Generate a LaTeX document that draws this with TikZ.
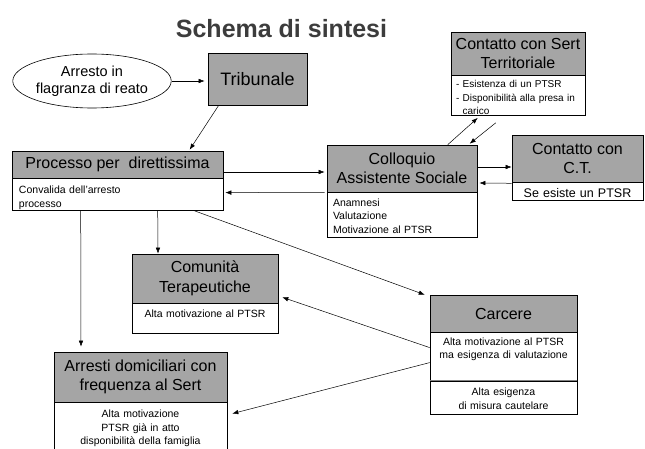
\documentclass[tikz,border=0pt]{standalone}
\usepackage{fontspec}
\setmainfont{Liberation Sans}
\usepackage{tikz}
\usetikzlibrary{positioning,shapes.geometric,arrows.meta}
\definecolor{boxgray}{RGB}{165,165,165}
\definecolor{titlegray}{RGB}{60,60,60}

\begin{document}
\begin{tikzpicture}[x=1pt,y=-1pt,
  head/.style={draw,line width=0.6pt,fill=boxgray,align=center,inner sep=0pt,font=\fontsize{16}{19.5}\selectfont},
  info/.style={draw,line width=0.6pt,fill=white,inner xsep=6pt,inner ysep=3pt,font=\fontsize{10.5}{13.5}\selectfont},
  link/.style={-{Latex[length=6pt,width=4.5pt]},line width=0.5pt}]
  \useasboundingbox (0,0) rectangle (645,449);
  \node[font=\bfseries\fontsize{25}{30}\selectfont,text=titlegray] (title) at (281.5,29) {Schema di sintesi};
  \node[ellipse,draw,line width=0.6pt,minimum width=140pt,minimum height=54pt,inner sep=0pt,align=center,font=\fontsize{14.5}{16.7}\selectfont] (arresto) at (92,81) {Arresto in\\flagranza di reato};
  \node[head,minimum width=99pt,minimum height=52pt,font=\fontsize{18}{21}\selectfont] (tribunale) at (257.5,79) {Tribunale};
  % header boxes with their notes below
  \node[head,minimum width=211pt,minimum height=27pt] (proc) at (117.5,164.5) {Processo per~ direttissima};
  \node[info,below=0pt of proc,inner xsep=7pt,text width=197pt,text height=12pt,text depth=14pt,align=left] (procinfo) {Convalida dell'arresto\\processo};
  \node[head,minimum width=150pt,minimum height=47pt] (colloquio) at (402,168.5) {Colloquio\\Assistente Sociale};
  \node[info,below=0pt of colloquio,text width=138pt,text height=10.5pt,text depth=28.5pt,align=left] (collinfo) {Anamnesi\\Valutazione\\Motivazione al PTSR};
  \node[head,minimum width=134pt,minimum height=43pt] (sert) at (518,53.5) {Contatto con Sert\\Territoriale};
  \node[info,below=0pt of sert,inner xsep=5pt,text width=124pt,text height=9pt,text depth=25pt,align=left,font=\fontsize{10}{13.5}\selectfont] (sertinfo) {- Esistenza di un PTSR\\- Disponibilità alla presa in\\\phantom{- }carico};
  \node[head,minimum width=131pt,minimum height=47pt] (ct) at (577.5,158.5) {Contatto con\\C.T.};
  \node[info,below=0pt of ct,text width=119pt,inner ysep=1pt,text height=13.5pt,text depth=2.5pt,align=center,font=\fontsize{12.5}{15}\selectfont] (ctinfo) {Se esiste un PTSR};
  \node[head,minimum width=146pt,minimum height=49pt] (comunita) at (205,278.5) {Comunità\\Terapeutiche};
  \node[info,below=0pt of comunita,text width=134pt,text height=11pt,text depth=13pt,align=center] (cominfo) {Alta motivazione al PTSR};
  \node[head,minimum width=173pt,minimum height=50pt] (arresti) at (140.5,377) {Arresti domiciliari con\\frequenza al Sert};
  \node[info,below=0pt of arresti,text width=161pt,text height=12pt,text depth=29pt,align=center] (arrinfo) {Alta motivazione\\PTSR già in atto\\disponibilità della famiglia};
  \node[head,minimum width=147pt,minimum height=37pt] (carcere) at (503.5,313.5) {Carcere};
  \node[info,below=0pt of carcere,text width=135pt,text height=9.5pt,text depth=32.5pt,align=center] (carinfo) {Alta motivazione al PTSR\\ma esigenza di valutazione};
  \node[info,below=0pt of carinfo,text width=135pt,text height=11.5pt,text depth=15.5pt,align=center] (carmisura) {Alta esigenza\\di misura cautelare};
  \draw[gray,line width=1pt] (carmisura.north west) -- (carmisura.north east);
  % connectors
  \draw[link,shorten >=3pt] (arresto.east) -- (arresto.east -| tribunale.west);
  \draw[link] ([xshift=11pt]tribunale.south west) -- ([xshift=178pt,yshift=1pt]proc.north west);
  \draw[link] ([yshift=-7.5pt]proc.east) -- ([xshift=-2pt,yshift=-3.5pt]colloquio.west);
  \draw[link] ([xshift=-2pt]colloquio.south west) -- ([xshift=2pt,yshift=2pt]procinfo.east);
  \draw[link] ([xshift=121pt]colloquio.north west) -- ([xshift=27pt,yshift=-2pt]sertinfo.south west);
  \draw[link] ([xshift=45pt,yshift=-7pt]sertinfo.south west) -- ([xshift=143pt,yshift=1pt]colloquio.north west);
  \draw[link] ([yshift=1.5pt]colloquio.east) -- ([yshift=-8.5pt]ct.west);
  \draw[link] ([yshift=-1pt]ct.south west) -- ([xshift=2pt,yshift=-14.5pt]colloquio.east);
  \draw[link] ([xshift=146pt]procinfo.south west) -- ([xshift=-47pt]comunita.north);
  \draw[link] ([xshift=69pt]procinfo.south west) -- ([xshift=-59.5pt,yshift=5pt]arresti.north);
  \draw[link] ([xshift=183pt]procinfo.south west) -- ([xshift=-5pt]carcere.north west);
  \draw[link] ([yshift=9pt]carinfo.west) -- ([xshift=4pt,yshift=6pt]comunita.south east);
  \draw[link] ([yshift=-6pt]carinfo.west) -- ([xshift=5pt,yshift=12.5pt]arrinfo.east);
\end{tikzpicture}
\end{document}
